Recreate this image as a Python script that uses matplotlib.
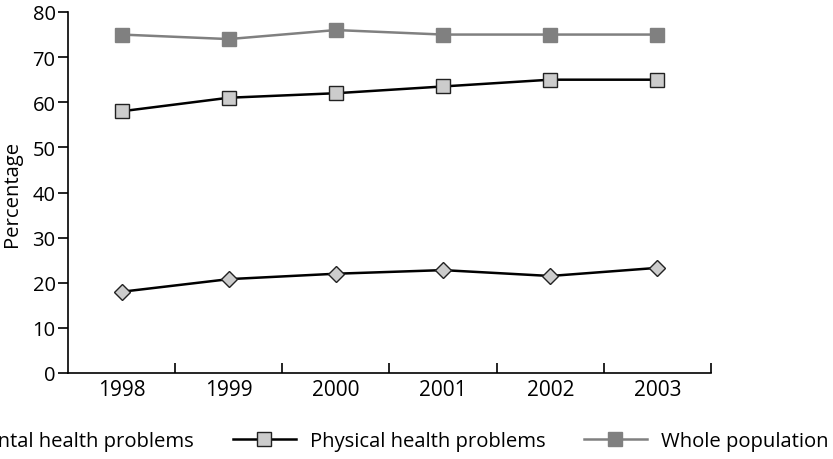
import matplotlib
matplotlib.use("Agg")
import matplotlib.pyplot as plt
from matplotlib.ticker import FixedLocator

years = ["1998", "1999", "2000", "2001", "2002", "2003"]
mental = [18.0, 20.8, 22.0, 22.8, 21.5, 23.3]
physical = [58.0, 61.0, 62.0, 63.5, 65.0, 65.0]
whole = [75.0, 74.0, 76.0, 75.0, 75.0, 75.0]
yticks = [0, 10, 20, 30, 40, 50, 60, 70, 80]

plt.rcParams['font.family'] = ['Open Sans', 'DejaVu Sans']

fig = plt.figure(figsize=(8.33, 4.6), dpi=100)
ax = fig.add_axes([68 / 833, 1 - 374 / 460, (711 - 68) / 833, (374 - 13) / 460])

x = list(range(len(years)))
ax.plot(x, mental, color='black', lw=1.8, marker='D', ms=8.3,
        mfc='#cccccc', mec='#222222', mew=1.0, label='Mental health problems', zorder=3)
ax.plot(x, physical, color='black', lw=1.8, marker='s', ms=9.8,
        mfc='#cccccc', mec='#222222', mew=1.0, label='Physical health problems', zorder=3)
ax.plot(x, whole, color='#808080', lw=1.8, marker='s', ms=9.8,
        mfc='#808080', mec='#808080', mew=1.0, label='Whole population', zorder=3)

ax.set_xlim(-0.5, len(years) - 0.5)
ax.set_ylim(0, 80)
ax.set_xticks(x)
ax.set_xticklabels(years, fontsize=15)
ax.xaxis.set_minor_locator(FixedLocator([i + 0.5 for i in range(len(years))]))
ax.tick_params(axis='x', which='major', length=0, pad=4)
ax.tick_params(axis='x', which='minor', direction='in', length=7, width=1.2, color='black')
ax.set_yticks(yticks)
ax.set_yticklabels([str(v) for v in yticks], fontsize=14.5)
ax.tick_params(axis='y', direction='out', length=7, width=1.2, pad=2)

for s in ['top', 'right']:
    ax.spines[s].set_visible(False)
for s in ['left', 'bottom']:
    ax.spines[s].set_linewidth(1.2)

ax.set_ylabel('Percentage', fontsize=14.6)
ax.yaxis.set_label_coords(-0.072, 0.5)

leg = ax.legend(loc='center', bbox_to_anchor=(0.454, -0.188), ncol=3, frameon=False,
                fontsize=14.6, handlelength=3.1, columnspacing=1.9, handletextpad=0.7)

fig.savefig('out.png', dpi=100)
